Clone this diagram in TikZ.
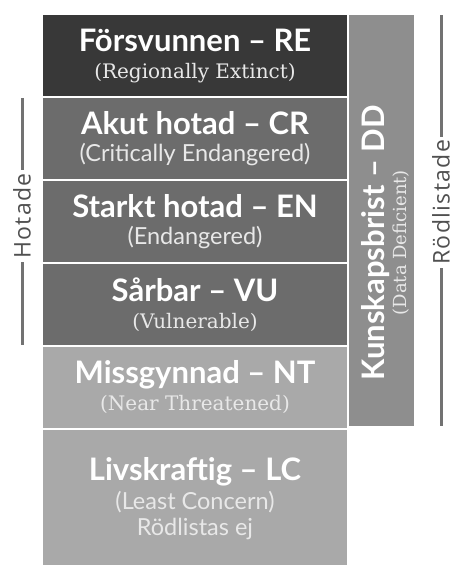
\documentclass[tikz,border=0pt]{standalone}
\usepackage{fontspec}
\setsansfont{Lato}
\newfontfamily\subserif{DejaVu Serif}
\newfontfamily\sidesans[LetterSpace=6]{Open Sans}
\usetikzlibrary{positioning}

\definecolor{extinctgray}{HTML}{383838}
\definecolor{threatgray}{HTML}{6C6C6C}
\definecolor{lowgray}{HTML}{A9A9A9}
\definecolor{ddgray}{HTML}{8E8E8E}
\definecolor{bracketgray}{HTML}{727272}
\definecolor{sidetext}{HTML}{505050}
\definecolor{subwhite}{HTML}{E8E8E8}

\newcommand{\cattitle}[1]{{\sffamily\bfseries\fontsize{31}{27}\selectfont #1}}
\newcommand{\catsub}[1]{{\color{subwhite}\subserif\fontsize{20}{27}\selectfont #1}}
\newcommand{\catsubsf}[1]{{\color{subwhite}\sffamily\fontsize{23.5}{27}\selectfont #1}}

\begin{document}
\begin{tikzpicture}[
    x=1pt, y=-1pt,
    node distance=1.5pt,
    category/.style={rectangle, fill=#1, minimum width=304pt, minimum height=81pt,
        inner sep=0pt, align=center, text=white, font=\fontsize{31}{27}\selectfont},
    ddbox/.style={rectangle, fill=ddgray, minimum width=65pt, minimum height=411pt, inner sep=0pt},
    bracket/.style={draw=bracketgray, line width=3pt},
    sidelabel/.style={fill=white, rotate=90, text=sidetext, font=\sidesans\fontsize{23}{24}\selectfont, inner xsep=3pt, inner ysep=0pt}
]
\useasboundingbox (0,0) rectangle (451,565);

% Categories
\node [category=extinctgray, anchor=north] (re) at (195,15)
    {\cattitle{Försvunnen -- RE}\\\catsub{(Regionally Extinct)}};
\node [category=threatgray, below=of re] (cr)
    {\cattitle{Akut hotad -- CR}\\\catsubsf{(Critically Endangered)}};
\node [category=threatgray, below=of cr] (en)
    {\cattitle{Starkt hotad -- EN}\\\catsubsf{(Endangered)}};
\node [category=threatgray, below=of en] (vu)
    {\cattitle{Sårbar -- VU}\\\catsub{(Vulnerable)}};
\node [category=lowgray, below=of vu] (nt)
    {\cattitle{Missgynnad -- NT}\\\catsub{(Near Threatened)}};
\node [category=lowgray, below=of nt, minimum height=137.5pt, font=\fontsize{31}{26}\selectfont] (lc)
    {\cattitle{Livskraftig -- LC}\\[3pt]\catsubsf{(Least Concern)}\\\catsubsf{Rödlistas ej}};

% Data deficient
\node [ddbox, anchor=north west] (dd) at ([xshift=1.5pt]re.north east) {};
\node [rotate=90, align=center, text=white, font=\fontsize{31}{22}\selectfont] (ddtext)
    at ([xshift=4pt, yshift=-22pt]dd.center)
    {\cattitle{Kunskapsbrist -- DD}\\{\color{subwhite}\subserif\fontsize{18}{22}\selectfont (Data Deficient)}};
\draw [white, dashed, line width=1.5pt] (dd.south west) -- (dd.south east);

% Brackets
\coordinate (htop) at (22,0 |- cr.north);
\coordinate (hbot) at (22,0 |- vu.south);
\coordinate (rtop) at (441,0 |- re.north);
\coordinate (rbot) at (441,0 |- dd.south);
\draw [bracket] (htop) -- (hbot) node[pos=0.478, sidelabel] {Hotade};
\draw [bracket] (rtop) -- (rbot) node[pos=0.455, sidelabel] {Rödlistade};

\end{tikzpicture}
\end{document}
